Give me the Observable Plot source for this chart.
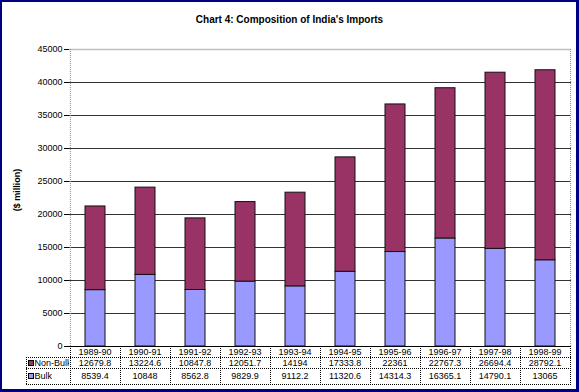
<!DOCTYPE html>
<html>
<head>
<meta charset="utf-8">
<script src="https://cdn.jsdelivr.net/npm/d3@7"></script>
<script src="https://cdn.jsdelivr.net/npm/@observablehq/plot@0.6"></script>
<style>
  html, body { margin: 0; padding: 0; background: #fff; overflow: hidden; }
  #wrap { position: relative; width: 579px; height: 392px; overflow: hidden; }
  #wrap svg { position: absolute; left: 0; top: 0; }
  #frame { position: absolute; left: 0; top: 0; width: 579px; height: 392px; box-sizing: border-box; border: 2px solid #000080; border-right-width: 3px; border-bottom-width: 3px; pointer-events: none; }
</style>
</head>
<body>
<div id="wrap"><div id="frame"></div></div>
<script>
const years = ["1989-90","1990-91","1991-92","1992-93","1993-94","1994-95","1995-96","1996-97","1997-98","1998-99"];
const nonBulk = [12679.8,13224.6,10847.8,12051.7,14194,17333.8,22361,22767.3,26694.4,28792.1];
const bulk = [8539.4,10848,8562.8,9829.9,9112.2,11320.6,14314.3,16365.1,14790.1,13065];
const nonBulkLabels = ["12679.8","13224.6","10847.8","12051.7","14194","17333.8","22361","22767.3","26694.4","28792.1"];
const bulkLabels = ["8539.4","10848","8562.8","9829.9","9112.2","11320.6","14314.3","16365.1","14790.1","13065"];
const yTicks = [0,5000,10000,15000,20000,25000,30000,35000,40000,45000];
const seriesNames = ["Bulk","Non-Bulk"];
const seriesColors = ["#9999FF","#993366"];

const rows = [];
years.forEach((y, i) => {
  rows.push({year: y, series: "Bulk", value: bulk[i]});
  rows.push({year: y, series: "Non-Bulk", value: nonBulk[i]});
});

const W = 579, H = 392;
const mL = 69, mR = 8, mT = 49, mB = 46;
const FONT = "'Liberation Sans', Arial, sans-serif";

const plot = Plot.plot({
  width: W, height: H,
  marginLeft: mL, marginRight: mR, marginTop: mT, marginBottom: mB,
  style: {fontFamily: FONT, fontSize: "9px", color: "#000", background: "transparent", overflow: "visible", maxWidth: "none"},
  x: {domain: years, padding: 0, axis: null},
  y: {domain: [0, 45000], label: null},
  color: {domain: seriesNames, range: seriesColors},
  marks: [
    Plot.ruleY(yTicks.filter(d => d > 0 && d < 45000), {stroke: "#333", strokeWidth: 1}),
    Plot.ruleY([45000], {stroke: "#c0c0c0", strokeWidth: 1.5}),
    Plot.barY(rows, {x: "year", y: "value", fill: "series", order: seriesNames, stroke: "#111", strokeWidth: 1, insetLeft: 15, insetRight: 15}),
    Plot.axisY({ticks: yTicks, tickSize: 5, tickPadding: 2, tickFormat: d => String(d), stroke: "#000", fontSize: 9}),
    Plot.ruleY([0], {stroke: "#000", strokeWidth: 1}),
    Plot.ruleX([years[0]], {stroke: "#888", strokeDasharray: "1,1", dx: -25.1}),
    Plot.ruleX([years[years.length-1]], {stroke: "#888", strokeDasharray: "1,1", dx: 25.1})
  ]
});

const svg = d3.select(plot);
const xs = plot.scale("x");
const x1 = W - mR;
const y0 = H - mB; // 346
const rowLines = [y0, y0 + 11, y0 + 22, y0 + 38];
const g = svg.append("g").attr("class", "table");
for (const yy of rowLines.slice(1)) {
  g.append("line").attr("x1", 26).attr("x2", x1).attr("y1", yy + 0.5).attr("y2", yy + 0.5)
    .attr("stroke", "#000").attr("stroke-dasharray", "1,1");
}
const edges = years.map(d => xs.apply(d)).concat([xs.apply(years[years.length-1]) + xs.bandwidth]);
for (const ex of edges) {
  g.append("line").attr("x1", Math.round(ex) + 0.5).attr("x2", Math.round(ex) + 0.5)
    .attr("y1", rowLines[0]).attr("y2", rowLines[3]).attr("stroke", "#000").attr("stroke-dasharray", "1,1");
}
g.append("line").attr("x1", 26.5).attr("x2", 26.5).attr("y1", rowLines[1]).attr("y2", rowLines[3])
  .attr("stroke", "#000").attr("stroke-dasharray", "1,1");

const tableRows = [
  {labels: years, cy: (rowLines[0] + rowLines[1]) / 2 + 0.5},
  {labels: nonBulkLabels, cy: (rowLines[1] + rowLines[2]) / 2 + 0.5},
  {labels: bulkLabels, cy: (rowLines[2] + rowLines[3]) / 2}
];
for (const r of tableRows) {
  years.forEach((yr, i) => {
    g.append("text").attr("x", xs.apply(yr) + xs.bandwidth / 2).attr("y", r.cy).attr("dy", "0.35em")
      .attr("text-anchor", "middle").attr("fill", "#000")
      .attr("style", `font-family:${FONT};font-size:9px`).text(r.labels[i]);
  });
}
// legend keys in table (clipped to the first column like the original)
svg.append("defs").append("clipPath").attr("id", "legclip")
  .append("rect").attr("x", 26).attr("y", rowLines[1]).attr("width", mL - 26).attr("height", rowLines[3] - rowLines[1]);
const lg = svg.append("g").attr("clip-path", "url(#legclip)");
const legendRows = [{name: "Non-Bulk", color: seriesColors[1], cy: (rowLines[1] + rowLines[2]) / 2 + 0.5},
                    {name: "Bulk", color: seriesColors[0], cy: (rowLines[2] + rowLines[3]) / 2}];
for (const r of legendRows) {
  lg.append("rect").attr("x", 28.5).attr("y", Math.round(r.cy - 3) + 0.5).attr("width", 5).attr("height", 5)
    .attr("fill", r.color).attr("stroke", "#000").attr("stroke-width", 1);
  lg.append("text").attr("x", 34.5).attr("y", r.cy).attr("dy", "0.35em").attr("fill", "#000")
    .attr("text-anchor", "start")
    .attr("style", `font-family:${FONT};font-size:9px;text-anchor:start`).text(r.name);
}
// title
svg.append("text").attr("x", W / 2).attr("y", 19).attr("dy", "0.35em").attr("text-anchor", "middle")
  .attr("fill", "#000").attr("style", `font-family:${FONT};font-size:10px;font-weight:bold`)
  .text("Chart 4: Composition of India's Imports");
// y label
svg.append("text").attr("transform", "translate(17,190) rotate(-90)").attr("dy", "0.35em").attr("text-anchor", "middle")
  .attr("fill", "#000").attr("style", `font-family:${FONT};font-size:9px;font-weight:bold`).text("($ million)");

document.getElementById("wrap").insertBefore(plot, document.getElementById("frame"));
</script>
</body>
</html>
